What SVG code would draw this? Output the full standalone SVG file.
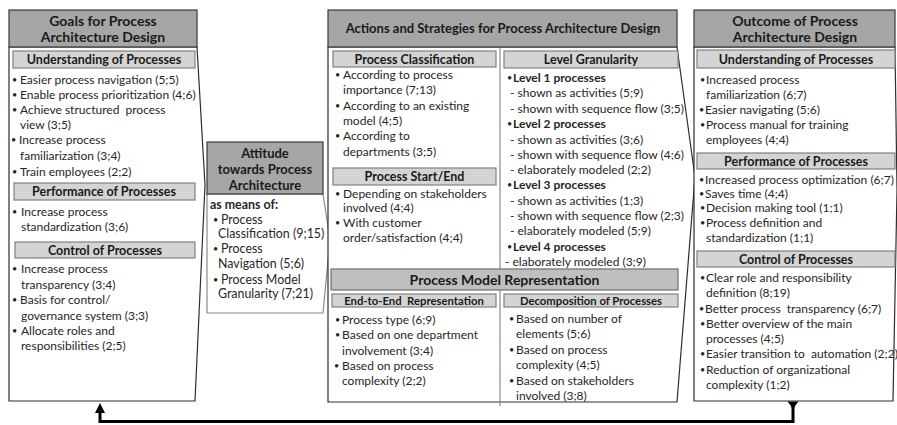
<svg xmlns="http://www.w3.org/2000/svg" width="897" height="425" viewBox="0 0 897 425">
  <style>
    text { font-family: Lato, "Liberation Sans", Arial, sans-serif; fill: #262626; }
    .t { font-size: 12px; }
    .ta { font-size: 12.4px; }
    .bu { font-size: 9px; }
    .b { font-weight: bold; }
    .h { font-size: 14px; font-weight: bold; text-anchor: middle; fill: #1a1a1a; }
    .hm { font-size: 13px; }
    .s { font-size: 12.5px; font-weight: bold; text-anchor: middle; fill: #1a1a1a; }
    .ss { font-size: 11.3px; font-weight: bold; text-anchor: middle; fill: #1a1a1a; }
    .band { font-size: 14px; font-weight: bold; text-anchor: middle; fill: #1a1a1a; }
    .hdr { fill: #a6a6a6; stroke: #3a3a3a; stroke-width: 1.2; }
    .sub { fill: #d4d4d4; stroke: #808080; stroke-width: 1.2; }
    .bandbox { fill: #bfbfbf; stroke: #6e6e6e; stroke-width: 1.2; }
    .body { fill: #ffffff; stroke: #2e2e2e; stroke-width: 1.2; }
    .soft { fill: #ffffff; stroke: #8a8a8a; stroke-width: 1.2; }
    .div { stroke: #8a8a8a; stroke-width: 1.2; fill: none; }
    .conn { fill: none; stroke: #000; stroke-width: 3; }
  </style>
  <defs>
    <marker id="arrowHead" viewBox="0 0 10 10" refX="1.4" refY="5" markerWidth="3.5" markerHeight="3.5" orient="auto" markerUnits="strokeWidth">
      <path d="M0,0 L10,5 L0,10 Z" fill="#000"/>
    </marker>
  </defs>

  <rect width="897" height="425" fill="#ffffff"/>

  <!-- Goals -->
  <g id="goals">
    <polygon class="body" points="9,47 197,47 205,185 195,401 9,401"/>
    <rect class="hdr" x="9" y="10" width="188" height="37"/>
    <text class="h" x="103" y="26">Goals for Process</text>
    <text class="h" x="103" y="42">Architecture Design</text>

    <rect class="sub" x="13" y="51" width="182" height="17"/>
    <text class="s" x="104" y="64">Understanding of Processes</text>
    <g class="t">
      <text class="bu" x="12" y="83">•</text><text x="20" y="84">Easier process navigation (5;5)</text>
      <text class="bu" x="12" y="98">•</text><text x="20" y="99">Enable process prioritization (4;6)</text>
      <text class="bu" x="12" y="113">•</text><text x="20" y="114" xml:space="preserve">Achieve structured  process</text>
      <text x="20" y="129">view (3;5)</text>
      <text class="bu" x="11" y="143">•</text><text x="19" y="144">Increase process</text>
      <text x="20" y="160">familiarization (3;4)</text>
      <text class="bu" x="12" y="175">•</text><text x="20" y="176">Train employees (2;2)</text>
    </g>

    <rect class="sub" x="14" y="183" width="181" height="17"/>
    <text class="s" x="104" y="196">Performance of Processes</text>
    <g class="t">
      <text class="bu" x="12" y="214.5">•</text><text x="21" y="215.5">Increase process</text>
      <text x="21" y="230.5">standardization (3;6)</text>
    </g>

    <rect class="sub" x="15" y="242" width="180" height="16"/>
    <text class="s" x="105" y="254.5">Control of Processes</text>
    <g class="t">
      <text class="bu" x="12" y="272">•</text><text x="21" y="273">Increase process</text>
      <text x="21" y="289">transparency (3;4)</text>
      <text class="bu" x="12" y="303">•</text><text x="20" y="304">Basis for control/</text>
      <text x="21" y="320">governance system (3;3)</text>
      <text class="bu" x="12" y="334">•</text><text x="21" y="335">Allocate roles and</text>
      <text x="21" y="350">responsibilities (2;5)</text>
    </g>
  </g>

  <!-- Attitude -->
  <g id="attitude">
    <polygon class="soft" points="207,194 323,194 330,240 323,313 207,313"/>
    <rect class="hdr" x="207" y="142" width="116" height="52"/>
    <text class="h hm" x="265" y="158">Attitude</text>
    <text class="h hm" x="265" y="174">towards Process</text>
    <text class="h hm" x="265" y="190">Architecture</text>
    <g class="ta">
      <text class="b" x="210" y="209">as means of:</text>
      <text class="bu" x="213" y="222.5">•</text><text x="221" y="223.5">Process</text>
      <text x="218" y="237.5">Classification (9;15)</text>
      <text class="bu" x="213" y="251.5">•</text><text x="221" y="252.5">Process</text>
      <text x="218" y="267.5">Navigation (5;6)</text>
      <text class="bu" x="213" y="283">•</text><text x="221" y="284">Process Model</text>
      <text x="218" y="298">Granularity (7;21)</text>
    </g>
  </g>

  <!-- Actions and strategies -->
  <g id="actions">
    <polygon class="body" points="328,47 677,47 695,177 677,402 328,402"/>
    <line class="div" x1="500" y1="47" x2="500" y2="406"/>
    <rect class="hdr" x="328" y="10" width="349" height="37"/>
    <text class="h hm" x="503" y="33">Actions and Strategies for Process Architecture Design</text>

    <rect class="sub" x="333" y="51" width="163" height="16"/>
    <text class="s" x="414.5" y="63.5">Process Classification</text>
    <g class="t">
      <text class="bu" x="335" y="78">•</text><text x="343" y="79">According to process</text>
      <text x="343" y="94">importance (7;13)</text>
      <text class="bu" x="335" y="109">•</text><text x="343" y="110">According to an existing</text>
      <text x="343" y="125">model (4;5)</text>
      <text class="bu" x="335" y="139">•</text><text x="343" y="140">According to</text>
      <text x="343" y="156">departments (3;5)</text>
    </g>

    <rect class="sub" x="333" y="168" width="163" height="17"/>
    <text class="s" x="414.5" y="180.5">Process Start/End</text>
    <g class="t">
      <text class="bu" x="335" y="197">•</text><text x="343" y="198">Depending on stakeholders</text>
      <text x="343" y="211.5">involved (4;4)</text>
      <text class="bu" x="335" y="226">•</text><text x="343" y="227">With customer</text>
      <text x="343" y="242">order/satisfaction (4;4)</text>
    </g>

    <rect class="sub" x="504" y="51" width="174" height="17"/>
    <text class="s" x="591" y="64">Level Granularity</text>
    <g class="t">
      <text class="bu" x="507" y="80.5">•</text><text class="b" x="513" y="81.5">Level 1 processes</text>
      <text x="510" y="97">- shown as activities (5;9)</text>
      <text x="510" y="112.5">- shown with sequence flow (3;5)</text>
      <text class="bu" x="507" y="127">•</text><text class="b" x="513" y="128">Level 2 processes</text>
      <text x="510" y="143.5">- shown as activities (3;6)</text>
      <text x="510" y="158.5">- shown with sequence flow (4;6)</text>
      <text x="510" y="174">- elaborately modeled (2;2)</text>
      <text class="bu" x="507" y="188">•</text><text class="b" x="513" y="189">Level 3 processes</text>
      <text x="510" y="205">- shown as activities (1;3)</text>
      <text x="510" y="220">- shown with sequence flow (2;3)</text>
      <text x="510" y="235">- elaborately modeled (5;9)</text>
      <text class="bu" x="507" y="250">•</text><text class="b" x="513" y="251">Level 4 processes</text>
      <text x="505" y="266">- elaborately modeled (3;9)</text>
    </g>

    <rect class="bandbox" x="331" y="269" width="347" height="21"/>
    <text class="band" x="504.5" y="284.5">Process Model Representation</text>

    <rect class="sub" x="332" y="294" width="164" height="13"/>
    <text class="ss" x="414" y="304.5" xml:space="preserve">End-to-End  Representation</text>
    <g class="t">
      <text class="bu" x="335" y="323">•</text><text x="342" y="324">Process type (6;9)</text>
      <text class="bu" x="335" y="338">•</text><text x="342" y="339">Based on one department</text>
      <text x="342" y="355">involvement (3;4)</text>
      <text class="bu" x="334" y="369">•</text><text x="342" y="370">Based on process</text>
      <text x="342" y="385">complexity (2;2)</text>
    </g>

    <rect class="sub" x="504" y="294" width="174" height="13"/>
    <text class="ss" x="591" y="304.5">Decomposition of Processes</text>
    <g class="t">
      <text class="bu" x="509" y="321.5">•</text><text x="516" y="322.5">Based on number of</text>
      <text x="516" y="338">elements (5;6)</text>
      <text class="bu" x="509" y="353">•</text><text x="516" y="354">Based on process</text>
      <text x="516" y="369">complexity (4;5)</text>
      <text class="bu" x="509" y="384">•</text><text x="516" y="385">Based on stakeholders</text>
      <text x="516" y="400">involved (3;8)</text>
    </g>
  </g>

  <!-- Outcome -->
  <g id="outcome">
    <polygon class="body" points="694,47 895,47 897,190 893,401 694,401"/>
    <rect class="hdr" x="694" y="10" width="201" height="37"/>
    <text class="h" x="795" y="26">Outcome of Process</text>
    <text class="h" x="795" y="42">Architecture Design</text>

    <rect class="sub" x="697" y="50" width="198" height="18"/>
    <text class="s" x="796" y="64">Understanding of Processes</text>
    <g class="t">
      <text class="bu" x="700" y="83">•</text><text x="706" y="84">Increased process</text>
      <text x="706" y="98.5">familiarization (6;7)</text>
      <text class="bu" x="699" y="112.5">•</text><text x="705" y="113.5">Easier navigating (5;6)</text>
      <text class="bu" x="700" y="128">•</text><text x="706" y="129">Process manual for training</text>
      <text x="706" y="144">employees (4;4)</text>
    </g>

    <rect class="sub" x="697" y="153" width="198" height="16"/>
    <text class="s" x="796" y="165.5">Performance of Processes</text>
    <g class="t">
      <text class="bu" x="699" y="183">•</text><text x="705" y="184">Increased process optimization (6;7)</text>
      <text class="bu" x="699" y="197">•</text><text x="705" y="198">Saves time (4;4)</text>
      <text class="bu" x="700" y="210.5">•</text><text x="706" y="211.5">Decision making tool (1;1)</text>
      <text class="bu" x="700" y="225.5">•</text><text x="706" y="226.5">Process definition and</text>
      <text x="706" y="242">standardization (1;1)</text>
    </g>

    <rect class="sub" x="697" y="251" width="198" height="16"/>
    <text class="s" x="796" y="263.5">Control of Processes</text>
    <g class="t">
      <text class="bu" x="700" y="280.5">•</text><text x="706" y="281.5">Clear role and responsibility</text>
      <text x="706" y="297">definition (8;19)</text>
      <text class="bu" x="699" y="311.5">•</text><text x="705" y="312.5" xml:space="preserve">Better process  transparency (6;7)</text>
      <text class="bu" x="700" y="327">•</text><text x="706" y="328">Better overview of the main</text>
      <text x="706" y="343">processes (4;5)</text>
      <text class="bu" x="700" y="357">•</text><text x="706" y="358" xml:space="preserve">Easier transition to  automation (2;2)</text>
      <text class="bu" x="700" y="372.5">•</text><text x="706" y="373.5">Reduction of organizational</text>
      <text x="706" y="388.5">complexity (1;2)</text>
    </g>
  </g>

  <!-- Feedback connector from outcome back to goals -->
  <g id="connectors">
    <path class="conn" d="M793,404 V421.5 H100 V412" marker-end="url(#arrowHead)"/>
    <path d="M787.5,401.5 L798.5,401.5 L795,406 L793,412 L791,406 Z" fill="#000"/>
  </g>
</svg>
